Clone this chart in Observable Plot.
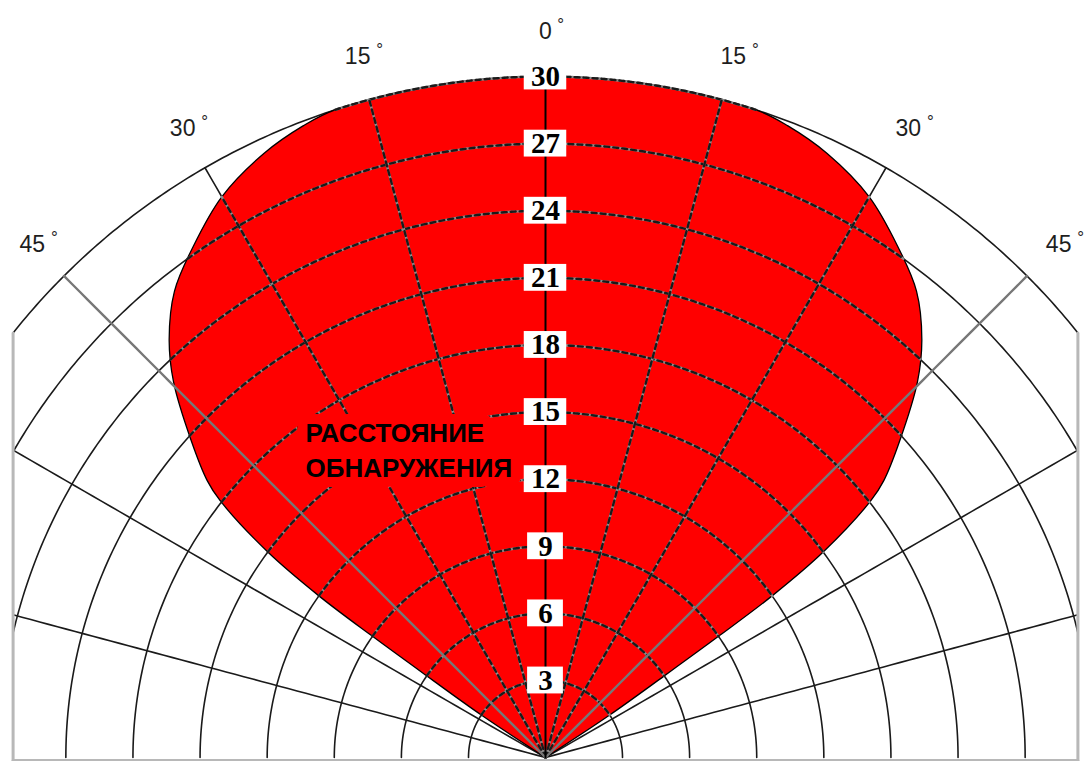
<!DOCTYPE html>
<html><head><meta charset="utf-8">
<script src="https://cdn.jsdelivr.net/npm/d3@7"></script>
<script src="https://cdn.jsdelivr.net/npm/@observablehq/plot@0.6"></script>
<style>
html,body{margin:0;padding:0;background:#fff} #chart svg{display:block}
</style>
</head><body><div id="chart"></div>
<script>
// ---- data ----
const spokeAngles = [-75, -60, -45, -30, -15, 0, 15, 30, 45, 60, 75];
const ringDistances = [3, 6, 9, 12, 15, 18, 21, 24, 27, 30];
const distanceLabels = ["3", "6", "9", "12", "15", "18", "21", "24", "27", "30"];
const angleTickAngles = [-45, -30, -15, 0, 15, 30, 45];
const angleTickLabels = ["45", "30", "15", "0", "15", "30", "45"];
// half of the (symmetric) detection zone: angle (deg) -> distance
const zoneAngles    = [0, 8, 18, 21, 25, 30, 34.6, 38.5, 42, 44.7, 48.2, 50.7, 51.7, 53.5, 54.5, 55, 55.5, 56.5];
const zoneDistances = [30, 30, 30, 29.8, 29.35, 28.5, 27.3, 26.2, 24.7, 23.2, 20.8, 19.1, 18.1, 15, 12, 9, 6, 3];
const zoneTitle = "РАССТОЯНИЕ\nОБНАРУЖЕНИЯ";

// ---- geometry helpers ----
const W = 1088, H = 761;
const K = 22.37;            // px per distance unit
const CX = 545, CY = 757;   // pole in px
const R0 = 0.442;           // radial offset of the rings
const XL = 23.8;            // half width of the frame (units)
const maxDist = 30;
const labelDist = 32;

const rho = v => v + R0;
const rad = a => a * Math.PI / 180;
const deg = r => r * 180 / Math.PI;
const pt = (a, r) => ({x: r * Math.sin(rad(a)), y: r * Math.cos(rad(a))});

function zoneAt(a) {
  a = Math.abs(a);
  const n = zoneAngles.length;
  if (a >= zoneAngles[n - 1]) return 0;
  const i = d3.bisectRight(zoneAngles, a) - 1;
  const t = (a - zoneAngles[i]) / (zoneAngles[i + 1] - zoneAngles[i]);
  return zoneDistances[i] + t * (zoneDistances[i + 1] - zoneDistances[i]);
}
function zoneSpan(v) {
  const n = zoneDistances.length;
  for (let i = n - 1; i >= 0; i--) {
    if (zoneDistances[i] >= v) {
      if (i === n - 1) return zoneAngles[i];
      const t = (zoneDistances[i] - v) / (zoneDistances[i] - zoneDistances[i + 1]);
      return zoneAngles[i] + t * (zoneAngles[i + 1] - zoneAngles[i]);
    }
  }
  return 0;
}
function arc(v, a0, a1, key) {
  const r = rho(v), N = 240, out = [];
  for (let j = 0; j <= N; j++) out.push({...pt(a0 + (a1 - a0) * j / N, r), key});
  return out;
}
function seg(a, r0, r1, key) {
  const N = 60, out = [];
  for (let j = 0; j <= N; j++) out.push({...pt(a, r0 + (r1 - r0) * j / N), key});
  return out;
}

// full grid
const ringLines = ringDistances.flatMap(v => {
  const r = rho(v);
  const ac = r > XL ? deg(Math.asin(XL / r)) : 90;
  return arc(v, -ac, ac, "r" + v);
});
const spokeEnd = a => Math.min(rho(maxDist), a === 0 ? Infinity : XL / Math.abs(Math.sin(rad(a))));
const plainSpokes = spokeAngles.filter(a => a !== 0 && Math.abs(a) !== 45);
const spokeLines = plainSpokes.flatMap(a => seg(a, 0, spokeEnd(a), "s" + a));
const diagSpokes = spokeAngles.filter(a => Math.abs(a) === 45).flatMap(a => seg(a, 0, spokeEnd(a), "d" + a));
const axisSpoke = seg(0, 0, rho(maxDist), "axis");

// inside the zone
const innerRings = ringDistances.flatMap(v => { const s = zoneSpan(v); return arc(v, -s, s, "ir" + v); });
const innerSpokes = plainSpokes.filter(a => zoneAt(a) > 0).flatMap(a => seg(a, 0, rho(zoneAt(a)), "is" + a));

// zone polygon
const zonePoly = [{x: 0, y: 0}];
for (let i = zoneAngles.length - 1; i >= 1; i--) zonePoly.push(pt(-zoneAngles[i], rho(zoneDistances[i])));
for (let i = 0; i < zoneAngles.length; i++) zonePoly.push(pt(zoneAngles[i], rho(zoneDistances[i])));
zonePoly.push({x: 0, y: 0});

// frame
const yTop = Math.sqrt(rho(maxDist) ** 2 - XL ** 2);
const yBot = -(H - 1 - CY) / K;
const frameLines = [
  {x: -XL, y: yTop, key: "L"}, {x: -XL, y: yBot, key: "L"},
  {x: XL, y: yTop, key: "R"}, {x: XL, y: yBot, key: "R"},
  {x: -XL, y: yBot, key: "B"}, {x: XL, y: yBot, key: "B"}
];

// labels
const distLabels = ringDistances.map((v, i) => ({y: rho(v), label: distanceLabels[i]}));
const angleTicks = angleTickAngles.map((a, i) => ({...pt(a, rho(labelDist)), label: angleTickLabels[i]}));

const chart = Plot.plot({
  width: W, height: H, margin: 0,
  x: {domain: [-CX / K, (W - CX) / K], range: [0, W], axis: null},
  y: {domain: [-(H - CY) / K, CY / K], range: [H, 0], axis: null},
  marks: [
    Plot.line(ringLines, {x: "x", y: "y", z: "key", stroke: "#1a1a1a", strokeWidth: 1.6}),
    Plot.line(spokeLines, {x: "x", y: "y", z: "key", stroke: "#1a1a1a", strokeWidth: 1.6}),
    Plot.line(zonePoly, {x: "x", y: "y", fill: "#ff0000", stroke: "#000", strokeWidth: 1.3, curve: "catmull-rom"}),
    Plot.line(innerRings, {x: "x", y: "y", z: "key", stroke: "#8c8c8c", strokeWidth: 2.4}),
    Plot.line(innerRings, {x: "x", y: "y", z: "key", stroke: "#1a1a1a", strokeWidth: 2.4, strokeDasharray: "5,4"}),
    Plot.line(innerSpokes, {x: "x", y: "y", z: "key", stroke: "#8c8c8c", strokeWidth: 2.4}),
    Plot.line(innerSpokes, {x: "x", y: "y", z: "key", stroke: "#1a1a1a", strokeWidth: 2.4, strokeDasharray: "5,4"}),
    Plot.line(diagSpokes, {x: "x", y: "y", z: "key", stroke: "#777", strokeWidth: 2.4}),
    Plot.line(axisSpoke, {x: "x", y: "y", stroke: "#000", strokeWidth: 2}),
    Plot.line(frameLines, {x: "x", y: "y", z: "key", stroke: "#b8b8b8", strokeWidth: 3}),
    Plot.text([zoneTitle], {
      x: -10.73, y: 15.2, text: d => d, textAnchor: "start", lineAnchor: "top", ariaLabel: "zone title",
      fontFamily: "Liberation Sans, Arial, sans-serif", fontWeight: "bold", fontSize: 26, lineHeight: 1.35,
      fill: "#000", stroke: "#ff0000", strokeWidth: 20, strokeLinejoin: "round"
    }),
    Plot.rect(distLabels, {
      x1: d => -(d.label.length > 1 ? 0.95 : 0.8), x2: d => (d.label.length > 1 ? 0.95 : 0.8),
      y1: d => d.y - 0.6, y2: d => d.y + 0.6, fill: "#fff"
    }),
    Plot.text(distLabels, {
      x: () => 0, y: "y", text: "label", lineAnchor: "middle",
      fontFamily: "Liberation Serif, Times New Roman, serif", fontWeight: "bold", fontSize: 29, fill: "#000"
    }),
    Plot.text(angleTicks, {
      x: "x", y: "y", text: "label", lineAnchor: "middle",
      fontFamily: "Liberation Sans, Arial, sans-serif", fontSize: 23, fill: "#1e1e1e"
    }),
    Plot.text(angleTicks, {
      x: d => d.x + (d.label.length * 6.75 + 8.5) / K, y: "y", text: () => "°", lineAnchor: "middle", dy: -7,
      fontFamily: "Liberation Sans, Arial, sans-serif", fontSize: 17, fill: "#1e1e1e"
    })
  ]
});
d3.select(chart).selectAll('g[aria-label="zone title"] text').style("letter-spacing", "0.9px");
document.getElementById("chart").append(chart);
</script>
</body></html>
